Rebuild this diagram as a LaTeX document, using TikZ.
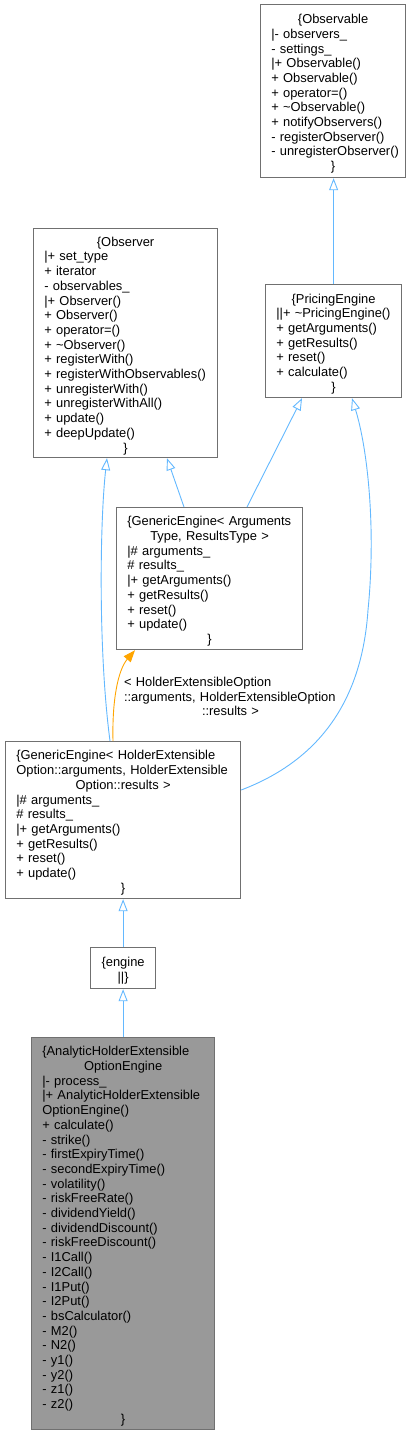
\documentclass[tikz,border=0pt]{standalone}
\usepackage{fontspec}
\setmainfont{Liberation Sans}
\usetikzlibrary{arrows.meta}
\definecolor{edgeblue}{HTML}{63B8FF}
\definecolor{edgeorange}{HTML}{FFA500}
\definecolor{bordergray}{HTML}{707070}
\definecolor{mainfill}{HTML}{999999}
\def\clsT#1{\par\hbox to\hsize{\hss#1\hss}}
\def\clsM#1{\par\hbox to\hsize{#1\hss}}
\begin{document}
\begin{tikzpicture}[x=1pt,y=-1pt,
  cls/.style={draw=bordergray, line width=1.2pt, fill=white, anchor=north west,
    inner xsep=10.7pt, inner ysep=0pt, font=\fontsize{12.9}{14.7}\selectfont},
  inh/.style={draw=edgeblue, line width=0.9pt, -{Triangle[open,length=12pt,width=9pt]}},
  tmpl/.style={draw=edgeorange, line width=0.9pt, -{Triangle[length=12pt,width=9pt]}},
  lbl/.style={inner sep=0pt, font=\fontsize{12.9}{14.7}\selectfont}
]
\useasboundingbox (0,0) rectangle (412,1435);

\node[cls, text width=123.6pt, minimum height=173pt] (obs) at (260,4) {%
\clsT{\{Observable}
\clsM{|- observers\_}
\clsM{- settings\_}
\clsM{|+ Observable()}
\clsM{+ Observable()}
\clsM{+ operator=()}
\clsM{+ \textasciitilde Observable()}
\clsM{+ notifyObservers()}
\clsM{- registerObserver()}
\clsM{- unregisterObserver()}
\clsT{\}}};

\node[cls, text width=162.6pt, minimum height=229pt] (observer) at (33,228) {%
\clsT{\{Observer}
\clsM{|+ set\_type}
\clsM{+ iterator}
\clsM{- observables\_}
\clsM{|+ Observer()}
\clsM{+ Observer()}
\clsM{+ operator=()}
\clsM{+ \textasciitilde Observer()}
\clsM{+ registerWith()}
\clsM{+ registerWithObservables()}
\clsM{+ unregisterWith()}
\clsM{+ unregisterWithAll()}
\clsM{+ update()}
\clsM{+ deepUpdate()}
\clsT{\}}};

\node[cls, text width=114.6pt, minimum height=113pt] (pe) at (265,284) {%
\clsT{\{PricingEngine}
\clsM{||+ \textasciitilde PricingEngine()}
\clsM{+ getArguments()}
\clsM{+ getResults()}
\clsM{+ reset()}
\clsM{+ calculate()}
\clsT{\}}};

\node[cls, text width=164.6pt, minimum height=142pt] (ga) at (116,507) {%
\clsM{\{GenericEngine< Arguments}
\clsT{Type, ResultsType >}
\clsM{|\# arguments\_}
\clsM{\# results\_}
\clsM{|+ getArguments()}
\clsM{+ getResults()}
\clsM{+ reset()}
\clsM{+ update()}
\clsT{\}}};

\node[cls, text width=213.6pt, minimum height=157pt] (gh) at (5,741) {%
\clsM{\{GenericEngine< HolderExtensible}
\clsM{Option::arguments, HolderExtensible}
\clsT{Option::results >}
\clsM{|\# arguments\_}
\clsM{\# results\_}
\clsM{|+ getArguments()}
\clsM{+ getResults()}
\clsM{+ reset()}
\clsM{+ update()}
\clsT{\}}};

\node[cls, text width=43.6pt, minimum height=41pt] (eng) at (90,947) {%
\clsT{\{engine}
\clsT{||\}}};

\node[cls, fill=mainfill, text width=161.6pt, minimum height=392pt] (ana) at (31,1037) {%
\clsM{\{AnalyticHolderExtensible}
\clsT{OptionEngine}
\clsM{|- process\_}
\clsM{|+ AnalyticHolderExtensible}
\clsM{OptionEngine()}
\clsM{+ calculate()}
\clsM{- strike()}
\clsM{- firstExpiryTime()}
\clsM{- secondExpiryTime()}
\clsM{- volatility()}
\clsM{- riskFreeRate()}
\clsM{- dividendYield()}
\clsM{- dividendDiscount()}
\clsM{- riskFreeDiscount()}
\clsM{- I1Call()}
\clsM{- I2Call()}
\clsM{- I1Put()}
\clsM{- I2Put()}
\clsM{- bsCalculator()}
\clsM{- M2()}
\clsM{- N2()}
\clsM{- y1()}
\clsM{- y2()}
\clsM{- z1()}
\clsM{- z2()}
\clsT{\}}};

\node[lbl, text width=213pt] (tlabel) at (230.5,694) {%
\clsM{< HolderExtensibleOption}
\clsM{::arguments, HolderExtensibleOption}
\clsT{::results >}};

% edges
\draw[inh] (pe.north) -- (pe.north |- obs.south);
\draw[inh] ([xshift=68pt]ga.north west) -- ([xshift=134pt]observer.south west);
\draw[inh] ([xshift=131pt]ga.north west) -- ([xshift=37pt]pe.south west);
\draw[inh] ([xshift=105pt]gh.north west) .. controls (98,650) and (100,520) .. ([xshift=74pt]observer.south west);
\draw[inh] ([yshift=-49pt]gh.north east) .. controls (320,760) and (362,700) .. (368,610)
   .. controls (376,530) and (368,450) .. ([xshift=87pt]pe.south west);
\draw[tmpl] ([xshift=108pt]gh.north west) .. controls (112,700) and (118,670) .. ([xshift=19pt]ga.south west);
\draw[inh] (eng.north) -- (gh.south);
\draw[inh] (ana.north) -- (eng.south);
\end{tikzpicture}
\end{document}
